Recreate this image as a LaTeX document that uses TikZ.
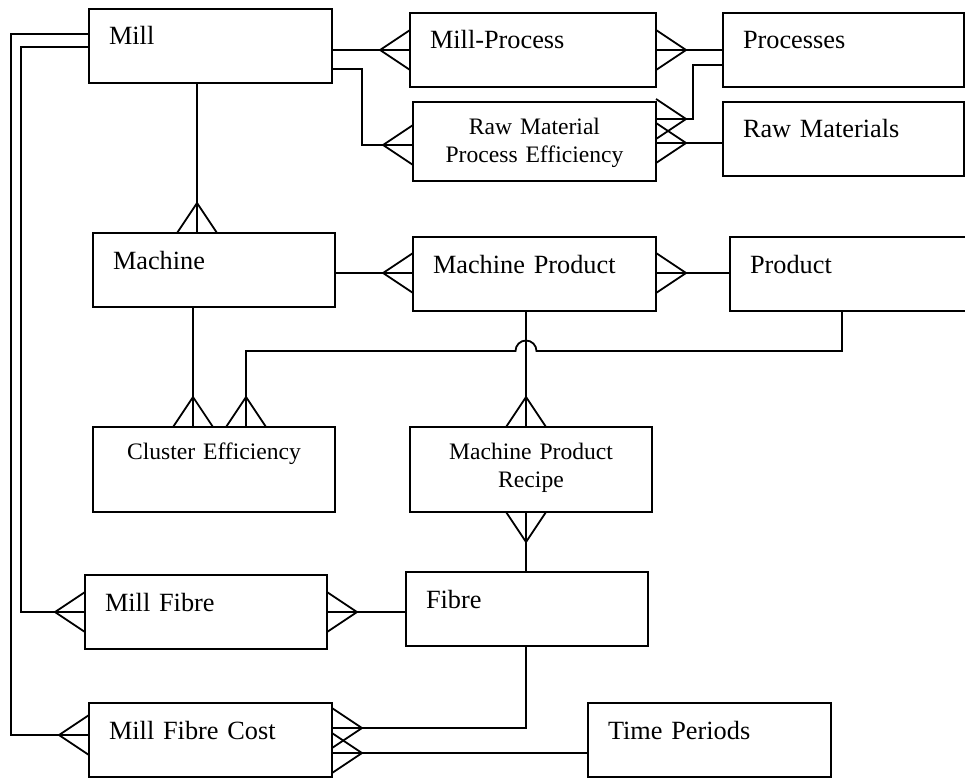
\documentclass[tikz,border=0pt]{standalone}
\usepackage{fontspec}
\setmainfont{Liberation Serif}
\usetikzlibrary{calc}
\tikzset{
    entity/.style 2 args={draw, anchor=north west, outer sep=0pt, inner xsep=20pt, inner ysep=0pt, align=left, text width=#1pt-40pt, text height=36pt, text depth=#2pt-36pt, font=\fontsize{26.3}{31}\selectfont},
    weak/.style 2 args={entity={#1}{#2}, align=center, inner xsep=0pt, text width=#1pt, text height=32.5pt, text depth=#2pt-32.5pt, font=\fontsize{23.6}{27.8}\selectfont},
    crow/.pic={\draw(-30,0)--(0,20)(-30,0)--(0,-20);}
}
\begin{document}
\begin{tikzpicture}[x=1pt, y=-1pt, line width=1.8pt]
\useasboundingbox(0,0)rectangle(965,778);
\node[entity={243}{74}] (mill) at (89,9) {Mill};
\node[entity={246}{74}] (millproc) at (410,13) {Mill-Process};
\node[entity={241}{74}] (proc) at (723,13) {Processes};
\node[weak={243}{79}] (rmpe) at (413,102) {Raw Material\\Process Efficiency};
\node[entity={241}{74}] (rawmat) at (723,102) {Raw Materials};
\node[entity={242}{74}] (machine) at (93,233) {Machine};
\node[entity={243}{74}] (machprod) at (413,237) {Machine Product};
\node[entity={245}{74}] (product) at (730,237) {Product};
\node[weak={242}{85}] (cluster) at (93,427) {Cluster Efficiency};
\node[weak={242}{85}] (mpr) at (410,427) {Machine Product\\Recipe};
\node[entity={242}{74}] (millfibre) at (85,575) {Mill Fibre};
\node[entity={242}{74}] (fibre) at (406,572) {Fibre};
\node[entity={243}{74}] (mfc) at (89,703) {Mill Fibre Cost};
\node[entity={243}{74}] (time) at (588,703) {Time Periods};
\coordinate (hop) at ($(machprod.south west)+(113,40)$);

\draw($(mill.north east)+(0,41)$)--($(millproc.north west)+(0,37)$)pic{crow};
\draw($(mill.north east)+(0,60)$)--++(30,0)|-($(rmpe.north west)+(0,43)$)pic{crow};
\draw($(proc.north west)+(0,37)$)--($(millproc.north east)+(0,37)$)pic[rotate=180]{crow};
\draw($(proc.north west)+(0,52)$)--++(-30,0)|-($(rmpe.north east)+(0,17)$)pic[rotate=180]{crow};
\draw($(rawmat.north west)+(0,41)$)--($(rmpe.north east)+(0,41)$)pic[rotate=180]{crow};
\draw($(mill.south west)+(108,0)$)--($(machine.north west)+(104,0)$)pic[rotate=-90]{crow};
\draw($(machine.north east)+(0,40)$)--($(machprod.north west)+(0,36)$)pic{crow};
\draw($(product.north west)+(0,36)$)--($(machprod.north east)+(0,36)$)pic[rotate=180]{crow};
\draw($(machine.south west)+(100,0)$)--($(cluster.north west)+(100,0)$)pic[rotate=-90]{crow};
\draw($(product.south west)+(112,0)$)|-($(hop)+(10.5,0)$)arc[start angle=0, end angle=180, radius=10.5pt]-|($(cluster.north west)+(153,0)$)pic[rotate=-90]{crow};
\draw($(machprod.south west)+(113,0)$)--($(mpr.north west)+(116,0)$)pic[rotate=-90]{crow};
\draw($(fibre.north west)+(120,0)$)--($(mpr.south west)+(116,0)$)pic[rotate=90]{crow};
\draw($(mill.north west)+(0,38)$)--++(-68,0)|-($(millfibre.north west)+(0,37)$)pic{crow};
\draw($(mill.north west)+(0,25)$)--++(-78,0)|-($(mfc.north west)+(0,32)$)pic{crow};
\draw($(fibre.north west)+(0,40)$)--($(millfibre.north east)+(0,37)$)pic[rotate=180]{crow};
\draw($(fibre.south west)+(120,0)$)|-($(mfc.north east)+(0,25)$)pic[rotate=180]{crow};
\draw($(time.north west)+(0,50)$)--($(mfc.north east)+(0,50)$)pic[rotate=180]{crow};
\end{tikzpicture}
\end{document}
